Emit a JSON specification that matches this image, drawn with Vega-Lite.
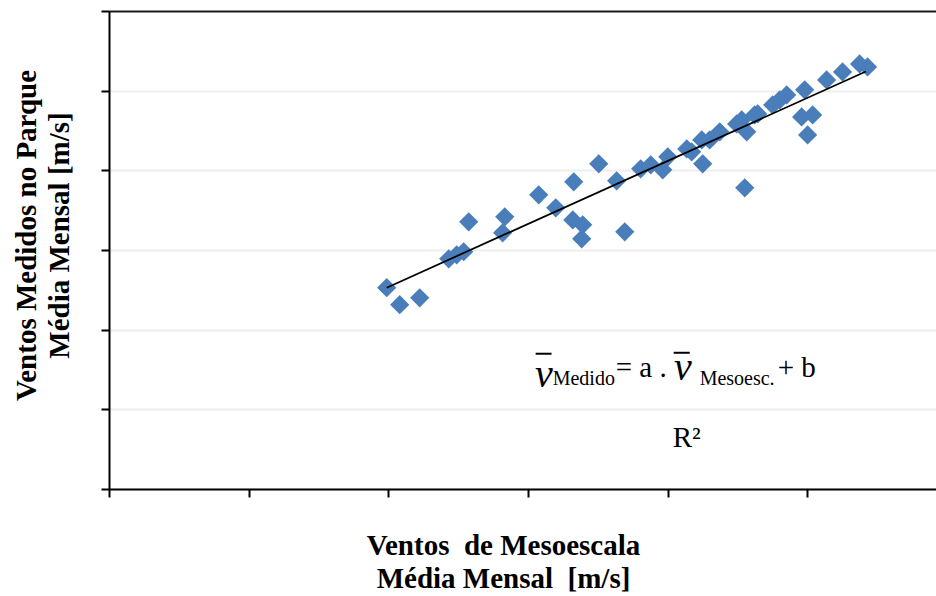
{
  "$schema": "https://vega.github.io/schema/vega-lite/v6.json",
  "autosize": {"type": "none"},
  "padding": {"left": 109, "top": 11, "right": 0, "bottom": 107},
  "width": 827,
  "height": 478,
  "background": "white",
  "config": {
    "view": {"stroke": null},
    "font": "Liberation Serif",
    "axis": {
      "labels": false,
      "domainColor": "black",
      "domainWidth": 2,
      "tickColor": "black",
      "tickWidth": 2,
      "tickSize": 8,
      "titleFont": "Liberation Serif",
      "titleFontWeight": "bold",
      "titleFontSize": 29,
      "titleColor": "black",
      "titleLineHeight": 33
    }
  },
  "datasets": {
    "pts": [
      {"meso": 1.988, "medido": 2.527},
      {"meso": 2.081, "medido": 2.313},
      {"meso": 2.224, "medido": 2.400},
      {"meso": 2.432, "medido": 2.890},
      {"meso": 2.489, "medido": 2.940},
      {"meso": 2.539, "medido": 2.978},
      {"meso": 2.575, "medido": 3.354},
      {"meso": 2.818, "medido": 3.216},
      {"meso": 2.833, "medido": 3.416},
      {"meso": 3.076, "medido": 3.692},
      {"meso": 3.198, "medido": 3.529},
      {"meso": 3.320, "medido": 3.378},
      {"meso": 3.327, "medido": 3.856},
      {"meso": 3.384, "medido": 3.140},
      {"meso": 3.391, "medido": 3.316},
      {"meso": 3.506, "medido": 4.082},
      {"meso": 3.634, "medido": 3.869},
      {"meso": 3.692, "medido": 3.228},
      {"meso": 3.806, "medido": 4.019},
      {"meso": 3.878, "medido": 4.069},
      {"meso": 3.964, "medido": 4.006},
      {"meso": 4.000, "medido": 4.169},
      {"meso": 4.136, "medido": 4.269},
      {"meso": 4.171, "medido": 4.232},
      {"meso": 4.250, "medido": 4.082},
      {"meso": 4.243, "medido": 4.382},
      {"meso": 4.300, "medido": 4.382},
      {"meso": 4.372, "medido": 4.483},
      {"meso": 4.493, "medido": 4.583},
      {"meso": 4.529, "medido": 4.633},
      {"meso": 4.551, "medido": 3.780},
      {"meso": 4.565, "medido": 4.483},
      {"meso": 4.622, "medido": 4.696},
      {"meso": 4.644, "medido": 4.708},
      {"meso": 4.751, "medido": 4.821},
      {"meso": 4.801, "medido": 4.884},
      {"meso": 4.851, "medido": 4.947},
      {"meso": 4.958, "medido": 4.671},
      {"meso": 4.980, "medido": 5.010},
      {"meso": 5.001, "medido": 4.445},
      {"meso": 5.037, "medido": 4.696},
      {"meso": 5.137, "medido": 5.135},
      {"meso": 5.251, "medido": 5.235},
      {"meso": 5.373, "medido": 5.336},
      {"meso": 5.430, "medido": 5.298}
    ],
    "trend": [
      {"meso": 1.988, "medido": 2.527},
      {"meso": 5.418, "medido": 5.240}
    ]
  },
  "layer": [
    {
      "data": {"name": "pts"},
      "mark": {"type": "point", "shape": "diamond", "filled": true, "size": 370, "color": "#4A7EBB", "opacity": 1},
      "encoding": {
        "x": {
          "field": "meso", "type": "quantitative",
          "scale": {"domain": [0, 5.92], "nice": false, "zero": false},
          "axis": {
            "values": [0, 1, 2, 3, 4, 5],
            "grid": false,
            "title": ["Ventos\u00a0 de Mesoescala", "Média Mensal\u00a0 [m/s]"],
            "titleX": 394,
            "titleY": 65,
            "titleAlign": "center",
            "titleBaseline": "alphabetic",
            "titleAnchor": null
          }
        },
        "y": {
          "field": "medido", "type": "quantitative",
          "scale": {"domain": [0, 6], "nice": false},
          "axis": {
            "values": [0, 1, 2, 3, 4, 5, 6],
            "grid": true,
            "gridColor": {"condition": {"test": "datum.value === 6", "value": "#1a1a1a"}, "value": "#eeeeee"},
            "gridWidth": 2,
            "title": ["Ventos Medidos no Parque", "Média Mensal [m/s]"],
            "titleX": -74,
            "titleY": 224,
            "titleAngle": 270,
            "titleAlign": "center",
            "titleBaseline": "alphabetic",
            "titleAnchor": null
          }
        }
      }
    },
    {
      "data": {"name": "trend"},
      "mark": {"type": "line", "color": "black", "strokeWidth": 1.75},
      "encoding": {
        "x": {"field": "meso", "type": "quantitative"},
        "y": {"field": "medido", "type": "quantitative"}
      }
    },
    {
      "data": {"values": [{}]},
      "mark": {"type": "text", "text": "v", "font": "Liberation Serif", "fontStyle": "italic", "fontSize": 40, "align": "left", "baseline": "alphabetic", "color": "black"},
      "encoding": {"x": {"datum": 3.05}, "y": {"datum": 1.284}}
    },
    {
      "data": {"values": [{}]},
      "mark": {"type": "text", "text": "Medido", "font": "Liberation Serif", "fontSize": 20, "align": "left", "baseline": "alphabetic", "color": "black"},
      "encoding": {"x": {"datum": 3.176}, "y": {"datum": 1.309}}
    },
    {
      "data": {"values": [{}]},
      "mark": {"type": "text", "text": "= a .", "font": "Liberation Serif", "fontSize": 29, "align": "left", "baseline": "alphabetic", "color": "black"},
      "encoding": {"x": {"datum": 3.627}, "y": {"datum": 1.409}}
    },
    {
      "data": {"values": [{}]},
      "mark": {"type": "text", "text": "v", "font": "Liberation Serif", "fontStyle": "italic", "fontSize": 40, "align": "left", "baseline": "alphabetic", "color": "black"},
      "encoding": {"x": {"datum": 4.045}, "y": {"datum": 1.371}}
    },
    {
      "data": {"values": [{}]},
      "mark": {"type": "text", "text": "Mesoesc.", "font": "Liberation Serif", "fontSize": 20, "align": "left", "baseline": "alphabetic", "color": "black"},
      "encoding": {"x": {"datum": 4.228}, "y": {"datum": 1.309}}
    },
    {
      "data": {"values": [{}]},
      "mark": {"type": "text", "text": "+ b", "font": "Liberation Serif", "fontSize": 29, "align": "left", "baseline": "alphabetic", "color": "black"},
      "encoding": {"x": {"datum": 4.787}, "y": {"datum": 1.409}}
    },
    {
      "data": {"values": [{}]},
      "mark": {"type": "text", "text": "R²", "font": "Liberation Serif", "fontSize": 29, "align": "left", "baseline": "alphabetic", "color": "black"},
      "encoding": {"x": {"datum": 4.035}, "y": {"datum": 0.53}}
    },
    {
      "data": {"values": [{}]},
      "mark": {"type": "rule", "color": "black", "strokeWidth": 2},
      "encoding": {"x": {"datum": 3.054}, "x2": {"datum": 3.168}, "y": {"datum": 1.698}}
    },
    {
      "data": {"values": [{}]},
      "mark": {"type": "rule", "color": "black", "strokeWidth": 2},
      "encoding": {"x": {"datum": 4.042}, "x2": {"datum": 4.157}, "y": {"datum": 1.71}}
    }
  ]
}
